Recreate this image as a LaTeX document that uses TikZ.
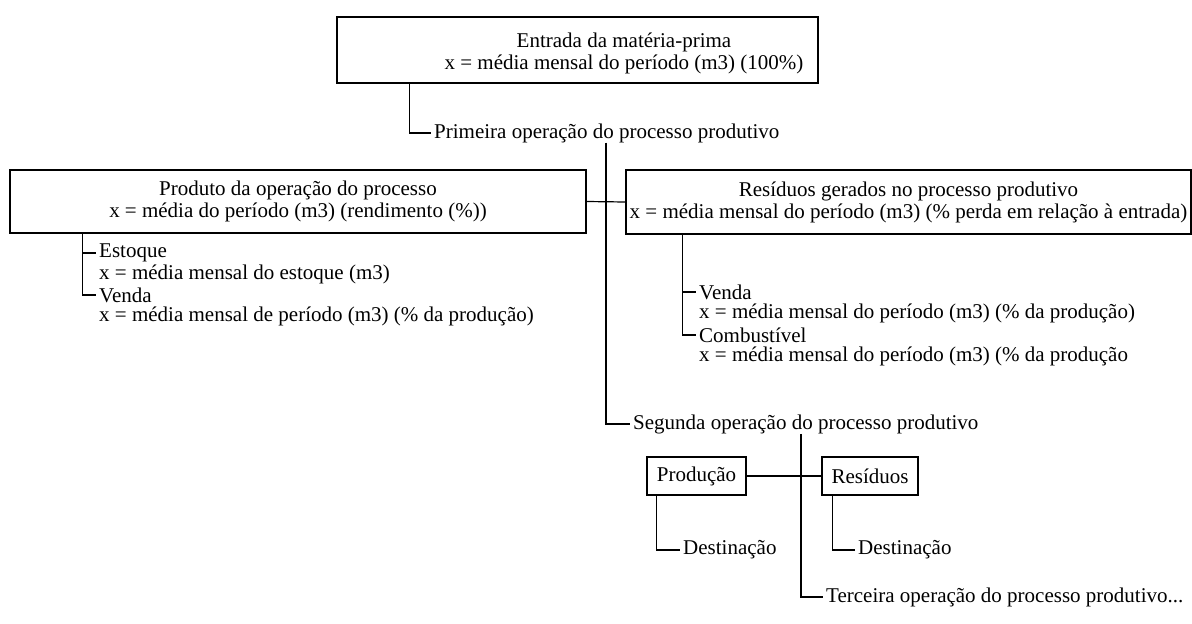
\documentclass[tikz,border=0pt]{standalone}
\usepackage{fontspec}
\setmainfont{Liberation Serif}
\usetikzlibrary{positioning}
\begin{document}
\begin{tikzpicture}
  [
    x = 1pt, y = -1pt,
    font = \fontsize{21}{22}\selectfont,
    box/.style = {draw, line width = 1.2pt, inner sep = 0pt, align = center},
    item/.style = {inner xsep = 3pt, inner ysep = 0pt, anchor = west},
    link/.style = {line width = 1.2pt},
  ]
  \useasboundingbox (0,0) rectangle (1192,624);

  % entrada e primeira operacao
  \node [box, minimum width = 481pt, minimum height = 66pt] (entrada) at (577.5,50) {};
  \node [align = center, inner sep = 0pt] (entradatxt) at (624,53)
    {Entrada da matéria-prima\\x = média mensal do período (m3) (100\%)};
  \node [item] (op1) at (431,133) {Primeira operação do processo produtivo};

  \node [box, minimum width = 576pt, minimum height = 63pt] (produto) at (298,201.5)
    {Produto da operação do processo\\x = média do período (m3) (rendimento (\%))};
  \node [box, minimum width = 565pt, minimum height = 64pt] (residuos) at (908.5,202)
    {Resíduos gerados no processo produtivo\\x = média mensal do período (m3) (\% perda em relação à entrada)};

  \node [item] (estoque)  at (96,253) {Estoque};
  \node [item] (estoquex) at (96,274) {x = média mensal do estoque (m3)};
  \node [item] (vendap)   at (96,295) {Venda};
  \node [item] (vendapx)  at (96,316) {x = média mensal de período (m3) (\% da produção)};

  \node [item] (vendar)   at (696,292) {Venda};
  \node [item] (vendarx)  at (696,313) {x = média mensal do período (m3) (\% da produção)};
  \node [item] (comb)     at (696,335) {Combustível};
  \node [item] (combx)    at (696,356) {x = média mensal do período (m3) (\% da produção};

  % segunda operacao
  \node [item] (op2) at (630,424) {Segunda operação do processo produtivo};
  \node [box, minimum width = 99pt, minimum height = 38pt] (producao) at (696.5,476) {Produção};
  \node [box, minimum width = 96pt, minimum height = 38pt] (residuos2) at (870,476) {Resíduos};
  \node [item] (dest1) at (680,550) {Destinação};
  \node [item] (dest2) at (855,550) {Destinação};

  % terceira operacao
  \node [item] (op3) at (823,597) {Terceira operação do processo produtivo...};

  \begin{scope}[link]
    \draw ([xshift=73pt]entrada.south west) |- (op1.west);
    \draw ([xshift=175pt]op1.south west) |- (op2.west);
    \draw (produto.east) -- (residuos.west);
    \draw ([xshift=73pt]produto.south west) |- (estoque.west);
    \draw ([xshift=73pt]produto.south west) |- (vendap.west);
    \draw ([xshift=57pt]residuos.south west) |- (vendar.west);
    \draw ([xshift=57pt]residuos.south west) |- (comb.west);
    \draw ([xshift=171pt]op2.south west) |- (op3.west);
    \draw (producao.east) -- (residuos2.west);
    \draw ([xshift=10pt]producao.south west) |- (dest1.west);
    \draw ([xshift=11pt]residuos2.south west) |- (dest2.west);
  \end{scope}

\end{tikzpicture}
\end{document}
